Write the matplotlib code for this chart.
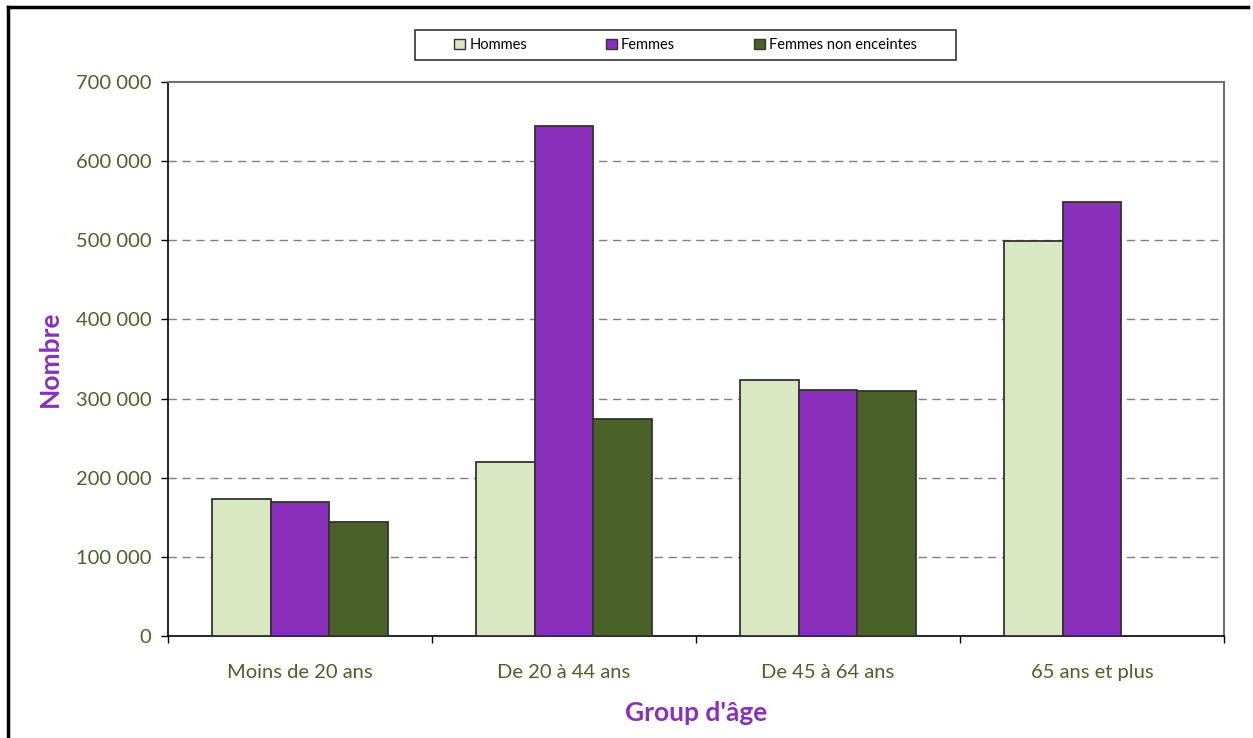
import matplotlib
matplotlib.use("Agg")
import matplotlib.pyplot as plt
import numpy as np
from matplotlib.patches import Rectangle
from matplotlib.lines import Line2D

categories = ["Moins de 20 ans", "De 20 à 44 ans", "De 45 à 64 ans", "65 ans et plus"]
series_names = ["Hommes", "Femmes", "Femmes non enceintes"]
hommes = [173000, 220000, 324000, 499000]
femmes = [169000, 645000, 311000, 548000]
femmes_non_enceintes = [144000, 274000, 310000, np.nan]
yticks = [0, 100000, 200000, 300000, 400000, 500000, 600000, 700000]
ytick_labels = ["0", "100 000", "200 000", "300 000", "400 000", "500 000", "600 000", "700 000"]

colors = ["#d9e7c3", "#8a2fbb", "#4a6127"]
label_green = "#4a6127"
title_purple = "#8a2fbb"

plt.rcParams['font.family'] = ['Lato', 'DejaVu Sans']

W, H = 1253, 738
fig = plt.figure(figsize=(W / 100, H / 100), dpi=100)
ax = fig.add_axes([168 / W, 1 - 636 / H, (1224 - 168) / W, (636 - 82) / H])

x = np.arange(len(categories))
bw = 0.222
data = [hommes, femmes, femmes_non_enceintes]
handles = []
for i, (vals, col, name) in enumerate(zip(data, colors, series_names)):
    b = ax.bar(x + (i - 1) * bw, vals, bw, color=col, edgecolor="#333333",
               linewidth=1.3, label=name, zorder=3)
    handles.append(b)

ax.set_xlim(-0.5, len(categories) - 0.5)
ax.set_ylim(0, 700000)
ax.set_yticks(yticks)
ax.set_yticklabels(ytick_labels)
ax.set_xticks(x)
ax.set_xticklabels(categories)
ax.set_xticks(np.arange(len(categories) + 1) - 0.5, minor=True)

ax.tick_params(axis="y", direction="out", length=5, width=1, colors="black",
               labelcolor=label_green, labelsize=14.5, pad=7)
ax.tick_params(axis="x", which="major", length=0, labelcolor=label_green,
               labelsize=14.5, pad=20.5)
ax.tick_params(axis="x", which="minor", direction="out", length=5, width=1, colors="black")

for yv in yticks[1:-1]:
    ax.axhline(yv, color="#808080", linestyle=(0, (6, 4)), linewidth=1, zorder=1)

ax.spines["left"].set_color("black")
ax.spines["bottom"].set_color("black")
ax.spines["left"].set_linewidth(1.2)
ax.spines["bottom"].set_linewidth(1.2)
for s in ["top", "right"]:
    ax.spines[s].set_color("#707070")
    ax.spines[s].set_linewidth(1.5)

ax.set_ylabel("Nombre", fontsize=19, fontweight="bold", color=title_purple, labelpad=10)
ax.set_xlabel("Group d'âge", fontsize=19, fontweight="bold", color=title_purple, labelpad=14)

# legend
leg = fig.legend(handles=handles, labels=series_names, ncol=3, frameon=False,
                 loc="center", bbox_to_anchor=((415 + 956) / 2 / W, 1 - 45 / H),
                 fontsize=10.5, handlelength=0.75, handleheight=0.75,
                 handletextpad=0.3, columnspacing=5.4)
for h in leg.legend_handles:
    h.set_edgecolor("#333333")
    h.set_linewidth(1.0)
fig.add_artist(Rectangle((415 / W, 1 - 60 / H), (956 - 415) / W, 30 / H,
                         transform=fig.transFigure, fill=False,
                         edgecolor="#333333", linewidth=1.2))

# figure border (top and left)
fig.add_artist(Line2D([8 / W, 8 / W], [0, 1 - 7 / H], transform=fig.transFigure,
                      color="black", linewidth=2.5))
fig.add_artist(Line2D([8 / W, 1248 / W], [1 - 7 / H, 1 - 7 / H], transform=fig.transFigure,
                      color="black", linewidth=2.5))

fig.savefig("out.png", dpi=100)
